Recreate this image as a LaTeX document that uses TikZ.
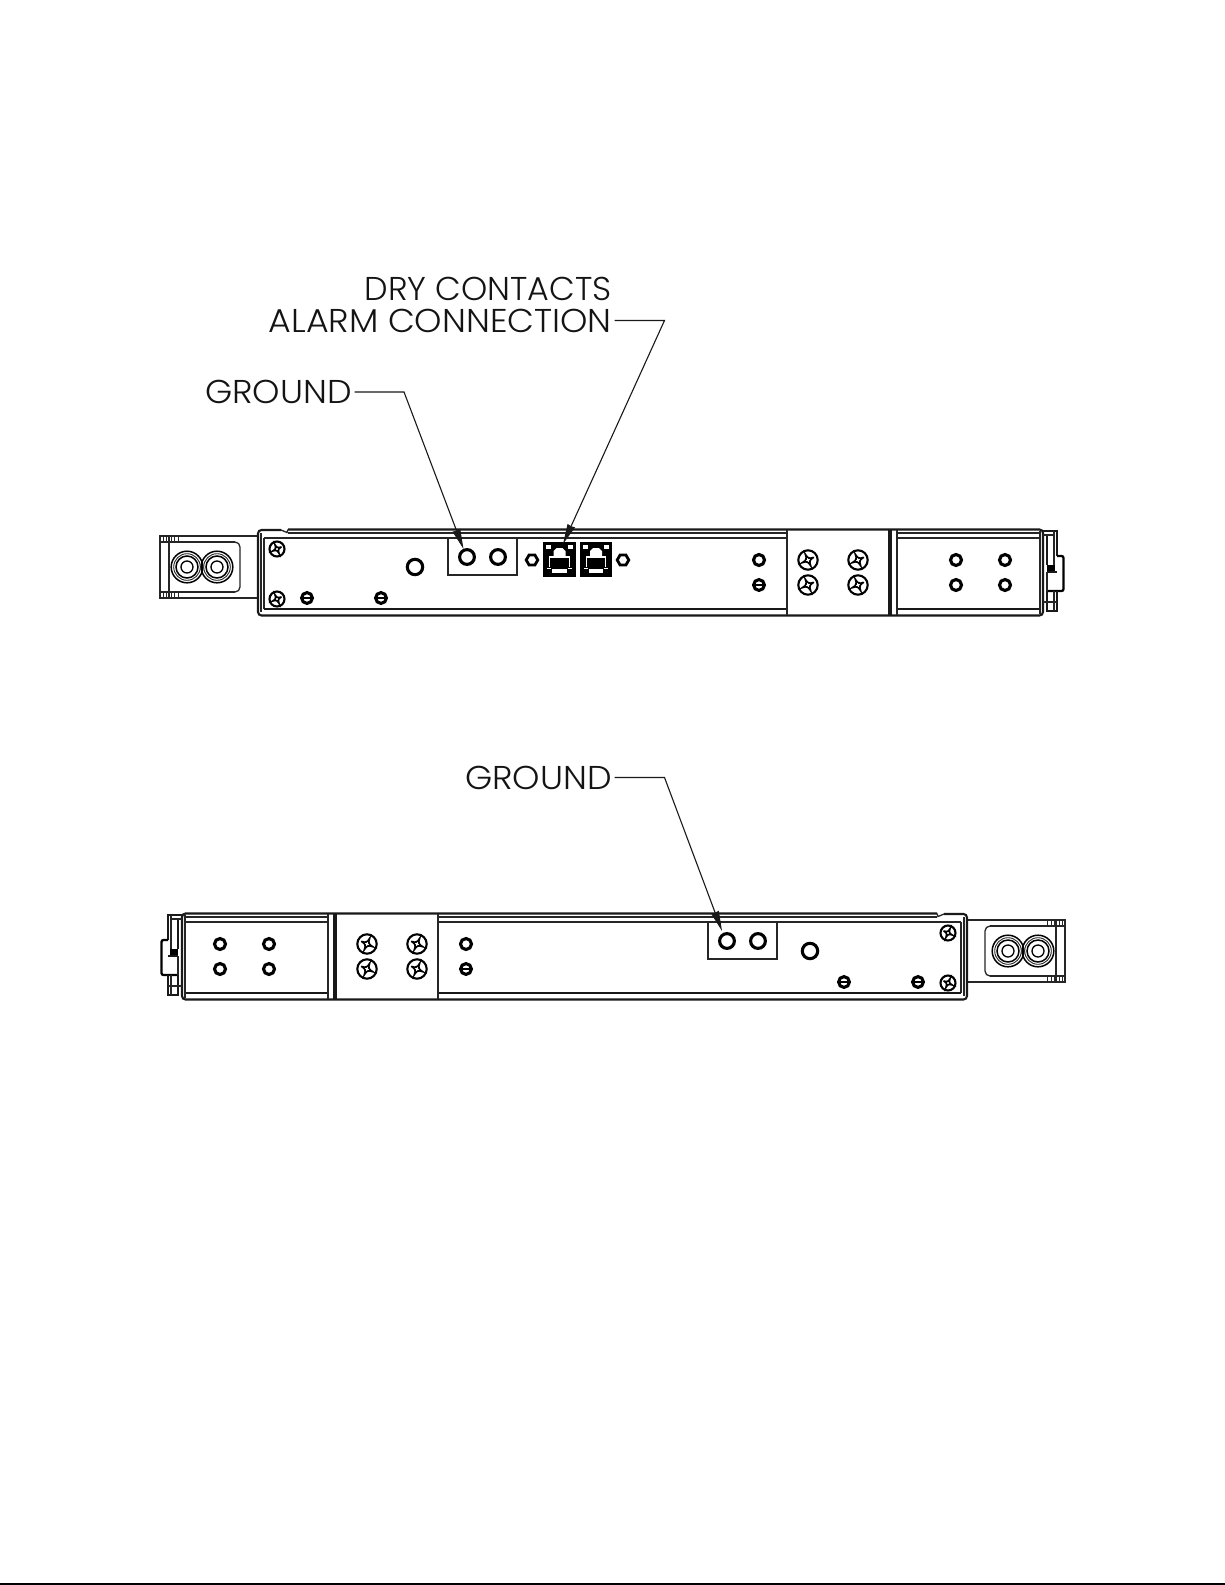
\documentclass[tikz,border=0pt]{standalone}
\usepackage{fontspec}
\setmainfont[FakeStretch=1.055]{Poppins Light}
\newfontfamily\dryfont[FakeStretch=1.01]{Poppins Light}
\usetikzlibrary{arrows.meta,calc}
\tikzset{
  edge/.style={line width=1.3pt,black!85},
  heavy/.style={line width=2.1pt,black!90},
  fine/.style={line width=.9pt,black!85},
  ringhole/.style={line width=3.1pt,black},
  callout/.style={font=\fontsize{33}{33}\selectfont,inner xsep=2.5pt,inner ysep=0pt,text=black!92},
  leader/.style={line width=1.1pt,black!90,-{Stealth[length=20pt,width=8pt,inset=0.5pt]}},
  rjwhite/.style={fill=white,draw=none}
}
% hole with a ring
\newcommand{\hole}[3]{\draw[ringhole] (#1,#2) circle (#3);}
% slotted hole
\newcommand{\slothole}[2]{\draw[ringhole] (#1,#2) circle (5.4);\draw[line width=2.4pt] (#1-5,#2) -- (#1+5,#2);}
% cross-head screw
\newcommand{\screw}[3]{%
  \draw[line width=2.1pt] (#1,#2) circle (#3);
  \begin{scope}[shift={(#1,#2)},scale=#3/10,rotate=25]
    \draw[line width=1.6pt] (6.6,0) .. controls (1.4,.6) and (.6,1.4) .. (0,6.6) .. controls (-.6,1.4) and (-1.4,.6) .. (-6.6,0) .. controls (-1.4,-.6) and (-.6,-1.4) .. (0,-6.6) .. controls (.6,-1.4) and (1.4,-.6) .. cycle;
  \end{scope}}
% hexagonal nut
\newcommand{\hexnut}[2]{\draw[line width=2.8pt] (#1+5.8,#2) -- (#1+2.9,#2-5) -- (#1-2.9,#2-5) -- (#1-5.8,#2) -- (#1-2.9,#2+5) -- (#1+2.9,#2+5) -- cycle;}
% network socket
\newcommand{\socket}[3]{%
  \begin{scope}[shift={(#1,#2)}]
    \fill[black] (0,0) rectangle (#3,35);
    \fill[rjwhite] (3.3,2.7) rectangle (8.3,6.7);
    \fill[rjwhite] (#3-8,2.7) rectangle (#3-3,6.7);
    \fill[rjwhite] (#3/2-6,14) -- (#3/2-6,9) -- (#3/2-3,6) -- (#3/2+3,6) -- (#3/2+6,9) -- (#3/2+6,14) -- cycle;
    \draw[white,line width=1.6pt] (6.5,25) -- (6.5,15) -- (#3-6.5,15) -- (#3-6.5,25);
    \fill[rjwhite] (9,27) rectangle (#3-9,30.5);
    \draw[white,line width=.7pt] (4,26.5) -- (8,26.5) (#3-8,26.5) -- (#3-4,26.5);
  \end{scope}}
% the housing, all parts that the two views share
\newcommand{\housing}{%
  % left tab with the double connector
  \draw[edge] (258,536) -- (160,536) -- (160,598) -- (258,598);
  \draw[edge] (169,536) -- (169,598);
  \draw[edge] (160,542) -- (235,542) (160,592) -- (235,592);
  \draw[edge,rounded corners=5] (169,542) -- (240,542) -- (240,592) -- (169,592);
  \foreach \tx in {163,166,171,174,178}{\draw[fine] (\tx,536) -- (\tx,542) (\tx,592) -- (\tx,598);}
  \foreach \cx in {187,217}{
    \draw[line width=1.5pt] (\cx,567) circle (15.8);
    \draw[fine] (\cx,567) circle (13.3);
    \draw[line width=1.5pt] (\cx,567) circle (11);
    \draw[line width=1.3pt] (\cx,567) circle (6);
  }
  % body
  \draw[heavy,rounded corners=3.5] (281,530) -- (258,530) -- (258,615.5) -- (1043,615.5) -- (1043,529.5) -- (288,529.5);
  \draw[edge] (281,530) -- (287,532.5) -- (288,529.5);
  \draw[edge] (261,533) -- (261,612);
  \draw[edge] (264,538) -- (264,609);
  \draw[edge] (288,533) -- (787,533) (897,533) -- (1040,533);
  \draw[edge] (264,538) -- (787,538) (897,538) -- (1040,538);
  \draw[heavy] (264,609) -- (787,609) (897,609) -- (1040,609);
  \draw[edge] (1040,531) -- (1040,614);
  % mounting band
  \draw[edge] (787,530) -- (787,615);
  \draw[line width=3.4pt,black!90] (890,530) -- (890,615);
  \draw[edge] (897,530) -- (897,615);
  % end clip
  \draw[heavy] (1043,531) -- (1057,531) -- (1057,556) (1047,535) -- (1047,565);
  \draw[edge] (1043,535) -- (1054,535) (1054,531) -- (1054,565);
  \fill[black] (1047,565) rectangle (1055,572);
  \draw[line width=2.3pt,rounded corners=2] (1057,556) -- (1063.5,556) -- (1063.5,591) -- (1047,591);
  \draw[heavy] (1047,572) -- (1057,572);
  \draw[edge] (1047,572) -- (1047,591);
  \draw[heavy] (1047,591) -- (1047,611) -- (1057,611) -- (1057,591);
  \draw[edge] (1043,602) -- (1057,602) (1054,591) -- (1054,611);
  % fasteners
  \screw{277}{549}{7.5}
  \screw{277}{599}{7.5}
  \slothole{307}{598}
  \slothole{381}{598}
  \hole{415}{567}{7.7}
  \draw[edge] (448,538) -- (448,575) -- (517,575) -- (517,538);
  \hole{467}{557}{7.4}
  \hole{498}{557}{7.4}
  \hole{759}{560}{5.5}
  \slothole{759}{585}
  \foreach \sx in {808,858}{\foreach \sy in {560,585}{\screw{\sx}{\sy}{9.7}}}
  \foreach \hx in {956,1005}{\foreach \hy in {560,585}{\hole{\hx}{\hy}{5.5}}}
}
\begin{document}
\begin{tikzpicture}[x=1pt,y=-1pt]
  \useasboundingbox (0,0) rectangle (1225,1585);
  \fill[white] (0,0) rectangle (1225,1585);
  \draw[line width=1.6pt] (0,1584.2) -- (1225,1584.2);

  % upper view
  \housing
  \socket{543}{542}{33}
  \socket{580}{542}{32}
  \hexnut{532}{560}
  \hexnut{623}{560}

  % lower view: the same housing mirrored
  \begin{scope}[shift={(1225,384)},xscale=-1]
    \housing
  \end{scope}

  % labels
  \node[callout,anchor=base east] (dry) at (614.5,300) {\dryfont DRY CONTACTS};
  \node[callout,anchor=base east] (alarm) at (614.5,332) {ALARM CONNECTION};
  \node[callout,anchor=base east] (gnda) at (354.5,403.5) {GROUND};
  \node[callout,anchor=base east] (gndb) at (614.5,789) {GROUND};

  % targets of the leaders
  \coordinate (rjtop) at (563,544);
  \coordinate (studa) at (463.5,549);
  \coordinate (studb) at (722,931);

  \draw[leader] (alarm.east) -- ++(50,0) -- (rjtop);
  \draw[leader] (gnda.east) -- ++(49.5,0) -- (studa);
  \draw[leader] (gndb.east) -- ++(50,0) -- (studb);
\end{tikzpicture}
\end{document}
